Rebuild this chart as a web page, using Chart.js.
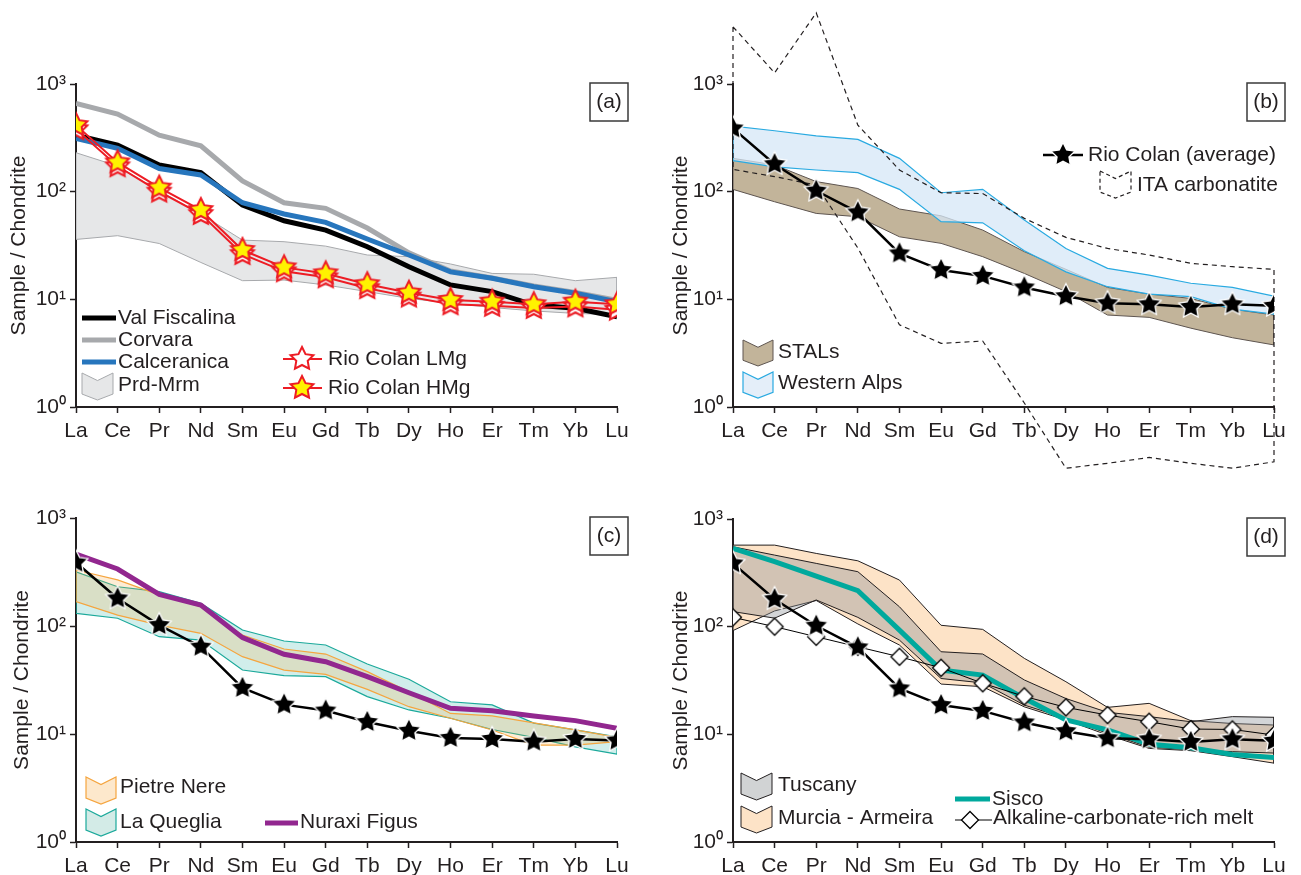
<!DOCTYPE html>
<html><head><meta charset="utf-8">
<script src="https://cdn.jsdelivr.net/npm/chart.js@4.4.1/dist/chart.umd.min.js"></script>
<style>
html,body{margin:0;padding:0;background:#fff;}
#wrap{position:relative;width:1301px;height:875px;overflow:hidden;background:#fff;}
canvas{position:absolute;}
</style></head><body>
<div id="wrap">
<canvas id="pa" width="650" height="470" style="left:0px;top:0px"></canvas>
<canvas id="pb" width="651" height="480" style="left:650px;top:0px"></canvas>
<canvas id="pc" width="650" height="395" style="left:0px;top:480px"></canvas>
<canvas id="pd" width="651" height="395" style="left:650px;top:480px"></canvas>
</div>
<script>
// ---------- categories & ticks ----------
const REE = ['La','Ce','Pr','Nd','Sm','Eu','Gd','Tb','Dy','Ho','Er','Tm','Yb','Lu'];
const yTickValues = [1, 10, 100, 1000];
const yTickLabels = ['10⁰', '10¹', '10²', '10³'];
const yTitle = 'Sample / Chondrite';

// ---------- panel (a) ----------
const valFiscalina = [335, 271, 177, 150, 75, 53.7, 44, 30.8, 20.1, 13.6, 11.8, 8.85, 8.25, 6.9];
const corvara      = [661, 525, 335, 267, 126, 78.8, 70, 45.9, 27, 18.3, 15.8, 13.3, 11.6, 9.8];
const calceranica  = [312, 253, 164, 143, 78.9, 62, 51.9, 36.3, 25.8, 18.0, 15.7, 13.1, 11.4, 9.5];
const prdMrmUpper  = [230, 173, 102, 62, 35.5, 34.3, 31.2, 25.8, 24.9, 21.3, 17.4, 17.1, 14.9, 16.0];
const prdMrmLower  = [36, 39, 33, 22, 14.9, 15.1, 13.6, 11.8, 10.2, 9.2, 8.4, 7.8, 7.4, 7.2];
const rioColanLMg  = [380, 172, 100, 62, 26.3, 18.2, 16, 12.7, 10.6, 9.0, 8.7, 8.3, 8.6, 8.0];
const rioColanHMg  = [415, 187, 109, 67.5, 28.7, 19.8, 17.4, 13.8, 11.5, 9.85, 9.5, 9.0, 9.5, 9.0];
const namesA = ['Val Fiscalina', 'Corvara', 'Calceranica', 'Prd-Mrm', 'Rio Colan LMg', 'Rio Colan HMg'];

// ---------- panel (b) ----------
const rioColanAvg      = [387, 180, 102, 64.3, 26.7, 18.7, 16.5, 12.9, 10.7, 9.2, 9.0, 8.5, 9.0, 8.7];
const stalsUpper       = [204, 177, 124, 107, 69, 59.7, 44, 27.7, 19, 12.9, 11.2, 10.2, 8.1, 7.15];
const stalsLower       = [105, 80.6, 62.8, 58.5, 38.1, 33.1, 24.9, 17.4, 11.8, 7.15, 6.8, 5.4, 4.4, 3.77];
const westernAlpsUpper = [406, 368, 330, 306, 204, 97.7, 105, 54.5, 29.7, 19.4, 16.8, 14.1, 12.9, 10.7];
const westernAlpsLower = [194, 170, 159, 150, 105, 52.6, 51.4, 28.3, 18, 13.1, 11.2, 10.6, 8.1, 7.3];
const itaUpper         = [3400, 1270, 4580, 415, 159, 97.7, 96, 56.5, 37.6, 29.7, 25.8, 21.6, 20.1, 19];
const itaLower         = [161, 138, 115, 30, 5.8, 3.9, 4.1, 1.09, 0.27, 0.30, 0.34, 0.30, 0.27, 0.31];
const namesB = ['Rio Colan (average)', 'ITA carbonatite', 'STALs', 'Western Alps'];

// ---------- panel (c) ----------
const nuraxiFigus     = [464, 337, 196, 156, 78, 54.7, 46.7, 34, 24.1, 17.3, 16.4, 14.7, 13.3, 11.3];
const pietreNereUpper = [330, 267, 194, 151, 82.6, 61.2, 55, 37.8, 24.6, 15.5, 14.7, 12.7, 10.9, 9.3];
const pietreNereLower = [168, 126, 102, 85.5, 52, 39.1, 35.7, 25.9, 17.9, 14, 10.9, 7.9, 7.9, 8.5];
const laQuegliaUpper  = [318, 231, 208, 162, 91.8, 72.6, 66.7, 44.5, 32.1, 19.9, 18.6, 12.6, 10.9, 9.4];
const laQuegliaLower  = [131, 118, 79.6, 74.1, 39.1, 34.7, 34, 22.2, 16.7, 14, 11, 9.3, 7.6, 6.5];
const namesC = ['Pietre Nere', 'La Queglia', 'Nuraxi Figus'];

// ---------- panel (d) ----------
const sisco         = [533, 401, 295, 216, 93, 39.5, 35.5, 21.6, 13.6, 11, 8.1, 7.5, 6.5, 6.1];
const alkalineMelt  = [122, 100, 80.6, 65, 52.5, 41.5, 29.8, 22.5, 17.8, 15.1, 13.1, 11.2, 11.1, 9.85];
const tuscanyUpper  = [552, 462, 387, 324, 153, 58.5, 55.7, 32, 21.5, 16, 14.6, 13.1, 14.6, 14.4];
const tuscanyLower  = [138, 120, 177, 122, 75, 33, 30, 18.7, 14.1, 10.2, 7.6, 7.2, 6.9, 6.7];
const murciaUpper   = [572, 572, 479, 409, 271, 103, 94.4, 50.8, 30.8, 17.8, 19.4, 13.4, 12.6, 12.2];
const murciaLower   = [92, 140, 175, 106, 67.5, 29.3, 27.7, 18, 13.6, 9.85, 7.4, 7.05, 6.2, 5.4];
const namesD = ['Tuscany', 'Murcia - Armeira', 'Sisco', 'Alkaline-carbonate-rich melt'];

// ---------- styling ----------
const INK = '#231f20';
const FONT = '"Liberation Sans", Arial, Helvetica, sans-serif';
const FS = 21;

function starImg(fill, stroke, lw, R, ratio) {
  const pad = lw + 1, s = Math.ceil(2 * (R + pad));
  const c = document.createElement('canvas'); c.width = s; c.height = s;
  const g = c.getContext('2d'); g.translate(s / 2, s / 2);
  g.beginPath();
  for (let k = 0; k < 10; k++) {
    const r = k % 2 ? R * ratio : R, a = -Math.PI / 2 + k * Math.PI / 5;
    g.lineTo(r * Math.cos(a), r * Math.sin(a));
  }
  g.closePath(); g.fillStyle = fill; g.fill();
  g.lineWidth = lw; g.strokeStyle = stroke; g.lineJoin = 'miter'; g.stroke();
  return c;
}
function diamondImg(fill, stroke, lw, R) {
  const pad = lw + 1, s = Math.ceil(2 * (R + pad));
  const c = document.createElement('canvas'); c.width = s; c.height = s;
  const g = c.getContext('2d'); g.translate(s / 2, s / 2);
  g.beginPath(); g.moveTo(0, -R); g.lineTo(R, 0); g.lineTo(0, R); g.lineTo(-R, 0); g.closePath();
  g.fillStyle = fill; g.fill(); g.lineWidth = lw; g.strokeStyle = stroke; g.stroke();
  return c;
}
const STAR_Y = starImg('#fff200', '#ed1c24', 2, 12, 0.5);
const STAR_W = starImg('#ffffff', '#ed1c24', 2, 12, 0.5);
const STAR_K = starImg('#000000', '#ffffff', 1.3, 12.5, 0.5);
const DIAM = diamondImg('#ffffff', '#000000', 1.3, 8.5);

const pts = arr => arr.map((v, i) => ({x: i, y: v}));
function poly(up, lo) { const p = pts(up).concat(pts(lo).reverse()); p.push(p[0]); return p; }
function lineDS(arr, color, width, extra) {
  return Object.assign({data: pts(arr), borderColor: color, borderWidth: width, pointRadius: 0,
    fill: false, tension: 0, borderJoinStyle: 'miter'}, extra || {});
}
function markDS(arr, color, width, img) {
  return lineDS(arr, color, width, {pointStyle: img, pointRadius: 6, pointHoverRadius: 6});
}
function bandDS(up, lo, fillColor, lineColor, lw, extra) {
  return Object.assign({data: poly(up, lo), borderColor: lineColor, borderWidth: lw,
    backgroundColor: fillColor, fill: 'shape', pointRadius: 0, tension: 0}, extra || {});
}

// ---------- legend helpers ----------
function legText(ctx, x, y, s) {
  ctx.save(); ctx.font = FS + 'px ' + FONT; ctx.fillStyle = INK;
  ctx.textAlign = 'left'; ctx.textBaseline = 'middle'; ctx.fillText(s, x, y); ctx.restore();
}
function legLine(ctx, x1, x2, y, color, w) {
  ctx.save(); ctx.strokeStyle = color; ctx.lineWidth = w; ctx.beginPath();
  ctx.moveTo(x1, y); ctx.lineTo(x2, y); ctx.stroke(); ctx.restore();
}
function legImg(ctx, img, x, y) { ctx.drawImage(img, x - img.width / 2, y - img.height / 2); }
function legChevron(ctx, x, y, w, h, fill, stroke, lw, dash) {
  ctx.save(); ctx.beginPath();
  ctx.moveTo(x, y); ctx.lineTo(x + w / 2, y + 0.28 * h); ctx.lineTo(x + w, y);
  ctx.lineTo(x + w, y + 0.78 * h); ctx.lineTo(x + w / 2, y + h); ctx.lineTo(x, y + 0.78 * h);
  ctx.closePath();
  if (fill) { ctx.fillStyle = fill; ctx.fill(); }
  if (dash) ctx.setLineDash(dash);
  ctx.strokeStyle = stroke; ctx.lineWidth = lw; ctx.stroke(); ctx.restore();
}
function labelBox(ctx, a, s) {
  ctx.save(); ctx.strokeStyle = '#3a3a3a'; ctx.lineWidth = 1.5;
  ctx.strokeRect(a.right - 27, a.top - 1, 38, 38);
  ctx.font = FS + 'px ' + FONT; ctx.fillStyle = INK; ctx.textAlign = 'center'; ctx.textBaseline = 'middle';
  ctx.fillText(s, a.right - 8, a.top + 18); ctx.restore();
}

// ---------- chart factory ----------
function makePanel(id, g, datasets, titlePad, decorate) {
  const n = datasets.length;
  datasets.forEach((d, i) => { d.order = n - i; });
  const tickFont = {family: FONT, size: FS};
  new Chart(document.getElementById(id), {
    type: 'line',
    data: {datasets},
    options: {
      responsive: false, animation: false, devicePixelRatio: 1,
      layout: {padding: {left: 0, top: g.T, right: g.W - g.R, bottom: 0}},
      plugins: {legend: {display: false}, tooltip: {enabled: false}},
      events: [],
      scales: {
        x: {
          type: 'linear', min: 0, max: 13,
          afterBuildTicks: s => { s.ticks = REE.map((_, i) => ({value: i})); },
          afterFit: s => { s.height = g.H - g.B; s.paddingLeft = 0; s.paddingRight = 0; },
          ticks: {autoSkip: false, maxRotation: 0, minRotation: 0, padding: 6, color: INK, font: tickFont,
            callback: v => REE[v]},
          grid: {display: true, drawOnChartArea: false, drawTicks: true, tickLength: 6, tickColor: INK, tickWidth: 1.5},
          border: {display: true, color: INK, width: 2}
        },
        y: {
          type: 'logarithmic', min: 1, max: 1000,
          afterBuildTicks: s => { s.ticks = yTickValues.map(v => ({value: v})); },
          afterFit: s => { s.width = g.L; s.paddingTop = 0; s.paddingBottom = 0; },
          ticks: {padding: 4, color: INK, font: tickFont,
            callback: v => { const k = yTickValues.indexOf(v); return k >= 0 ? yTickLabels[k] : ''; }},
          grid: {display: true, drawOnChartArea: false, drawTicks: true, tickLength: 6, tickColor: INK, tickWidth: 1.5},
          border: {display: true, color: INK, width: 2},
          title: {display: true, text: yTitle, color: INK, font: {family: FONT, size: FS}, padding: {top: titlePad, bottom: 0}}
        }
      }
    },
    plugins: [{id: 'deco', afterDraw: ch => decorate(ch.ctx, ch.chartArea)}]
  });
}

// ---------- panel (a) ----------
makePanel('pa', {W: 650, H: 470, L: 76, T: 84, R: 617, B: 407}, [
  bandDS(prdMrmUpper, prdMrmLower, '#e6e7e8', '#a7a9ac', 1),
  lineDS(valFiscalina, '#000000', 5),
  lineDS(corvara, '#a7a9ac', 5),
  lineDS(calceranica, '#2776bd', 5),
  markDS(rioColanLMg, '#ed1c24', 2, STAR_W),
  markDS(rioColanHMg, '#ed1c24', 2, STAR_Y)
], 7, (ctx, a) => {
  const L = a.left, T = a.top;
  legLine(ctx, L + 6, L + 40, T + 234, '#000000', 5); legText(ctx, L + 42, T + 234, namesA[0]);
  legLine(ctx, L + 6, L + 40, T + 256, '#a7a9ac', 5); legText(ctx, L + 42, T + 256, namesA[1]);
  legLine(ctx, L + 6, L + 40, T + 278, '#2776bd', 5); legText(ctx, L + 42, T + 278, namesA[2]);
  legChevron(ctx, L + 6, T + 289, 31, 27, '#e6e7e8', '#a7a9ac', 1); legText(ctx, L + 42, T + 301, namesA[3]);
  legLine(ctx, L + 207, L + 246, T + 275, '#ed1c24', 2); legImg(ctx, STAR_W, L + 226, T + 275); legText(ctx, L + 252, T + 275, namesA[4]);
  legLine(ctx, L + 207, L + 246, T + 304, '#ed1c24', 2); legImg(ctx, STAR_Y, L + 226, T + 304); legText(ctx, L + 252, T + 304, namesA[5]);
  labelBox(ctx, a, '(a)');
});

// ---------- panel (b) ----------
makePanel('pb', {W: 651, H: 480, L: 83, T: 84, R: 624, B: 407}, [
  bandDS(stalsUpper, stalsLower, '#c2b49a', '#5e5550', 1),
  bandDS(westernAlpsUpper, westernAlpsLower, 'rgba(214,231,247,0.75)', '#29aae1', 1.2),
  {data: poly(itaUpper, itaLower), borderColor: INK, borderWidth: 1.2, borderDash: [5, 4], fill: false,
    pointRadius: 0, tension: 0, clip: false},
  markDS(rioColanAvg, '#000000', 2.5, STAR_K)
], 19, (ctx, a) => {
  const L = a.left, T = a.top;
  legLine(ctx, L + 310, L + 350, T + 71, '#000000', 2.5); legImg(ctx, STAR_K, L + 330, T + 71); legText(ctx, L + 355, T + 71, namesB[0]);
  legChevron(ctx, L + 367, T + 87, 31, 27, null, INK, 1.2, [4, 3]); legText(ctx, L + 404, T + 101, namesB[1]);
  legChevron(ctx, L + 10, T + 256, 30, 26, '#c2b49a', '#5e5550', 1); legText(ctx, L + 45, T + 268, namesB[2]);
  legChevron(ctx, L + 10, T + 288, 30, 26, '#e4eef9', '#29aae1', 1.2); legText(ctx, L + 45, T + 299, namesB[3]);
  labelBox(ctx, a, '(b)');
});

// ---------- panel (c) ----------
makePanel('pc', {W: 650, H: 395, L: 76, T: 38, R: 617, B: 362}, [
  bandDS(laQuegliaUpper, laQuegliaLower, 'rgba(26,168,155,0.2)', '#1ba99b', 1.2),
  bandDS(pietreNereUpper, pietreNereLower, 'rgba(247,168,64,0.22)', '#f5a53f', 1.2),
  lineDS(nuraxiFigus, '#92278f', 5),
  markDS(rioColanAvg, '#000000', 2.5, STAR_K)
], 10, (ctx, a) => {
  const L = a.left, T = a.top;
  legChevron(ctx, L + 10, T + 259, 30, 27, '#fde8cc', '#f5a53f', 1.2); legText(ctx, L + 44, T + 269, namesC[0]);
  legChevron(ctx, L + 10, T + 291, 30, 27, '#d3ebe7', '#1ba99b', 1.2); legText(ctx, L + 44, T + 304, namesC[1]);
  legLine(ctx, L + 189, L + 222, T + 305, '#92278f', 5); legText(ctx, L + 224, T + 304, namesC[2]);
  labelBox(ctx, a, '(c)');
});

// ---------- panel (d) ----------
makePanel('pd', {W: 651, H: 395, L: 83, T: 39, R: 624, B: 362}, [
  bandDS(murciaUpper, murciaLower, '#fde3c7', INK, 1),
  bandDS(tuscanyUpper, tuscanyLower, 'rgba(140,145,150,0.38)', INK, 1),
  lineDS(sisco, '#00a99d', 5),
  markDS(alkalineMelt, '#000000', 1, DIAM),
  markDS(rioColanAvg, '#000000', 2.5, STAR_K)
], 19, (ctx, a) => {
  const L = a.left, T = a.top;
  legChevron(ctx, L + 8, T + 254, 31, 27, '#d1d3d4', INK, 1); legText(ctx, L + 45, T + 266, namesD[0]);
  legChevron(ctx, L + 8, T + 287, 31, 27, '#fde3c7', INK, 1); legText(ctx, L + 45, T + 299, namesD[1]);
  legLine(ctx, L + 222, L + 257, T + 280, '#00a99d', 5); legText(ctx, L + 259, T + 280, namesD[2]);
  legLine(ctx, L + 222, L + 259, T + 301, '#000000', 1); legImg(ctx, DIAM, L + 237, T + 301); legText(ctx, L + 260, T + 299, namesD[3]);
  labelBox(ctx, a, '(d)');
});
</script>
</body></html>
